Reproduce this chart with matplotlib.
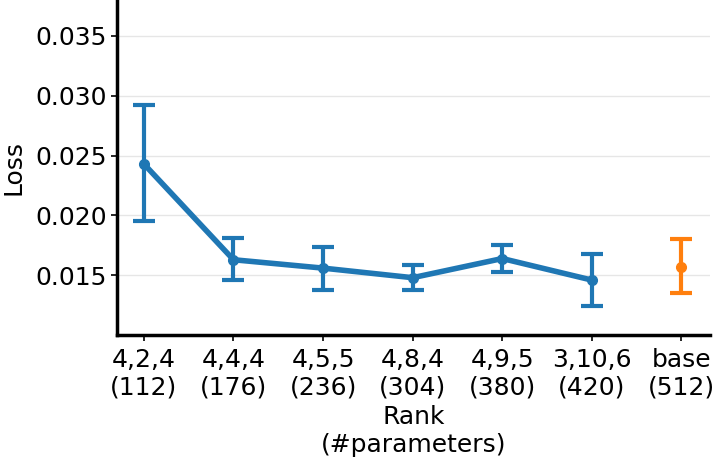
import matplotlib
matplotlib.use("Agg")
import matplotlib.pyplot as plt

# Daten
ranks = ["4,2,4", "4,4,4", "4,5,5", "4,8,4", "4,9,5", "3,10,6", "base"]
params = [112, 176, 236, 304, 380, 420, 512]
loss = [0.0243, 0.0163, 0.0156, 0.0148, 0.0164, 0.0146, 0.0157]
loss_hi = [0.0292, 0.0181, 0.0174, 0.0159, 0.0175, 0.0168, 0.0180]
loss_lo = [0.0195, 0.0146, 0.0138, 0.0138, 0.0153, 0.0124, 0.0135]

x = list(range(len(ranks)))
err_lo = [m - l for m, l in zip(loss, loss_lo)]
err_hi = [h - m for m, h in zip(loss, loss_hi)]

fig = plt.figure(figsize=(7.18, 4.61), dpi=100)
ax = fig.add_axes([0.163, 0.273, 0.826, 0.727])

# Rang-Varianten
ax.errorbar(x[:-1], loss[:-1], yerr=[err_lo[:-1], err_hi[:-1]],
            color="#1f77b4", linewidth=4, marker="o", markersize=7,
            elinewidth=3, capsize=8, capthick=3)
# Basismodell
ax.errorbar(x[-1:], loss[-1:], yerr=[err_lo[-1:], err_hi[-1:]],
            color="#ff7f0e", linewidth=4, marker="o", markersize=7,
            elinewidth=3, capsize=8, capthick=3)

ax.set_xticks(x)
ax.set_xticklabels([f"{r}\n({p})" for r, p in zip(ranks, params)], fontsize=18)
ax.set_yticks([0.015, 0.020, 0.025, 0.030, 0.035])
ax.set_yticklabels(["0.015", "0.020", "0.025", "0.030", "0.035"], fontsize=18)
ax.set_xlim(-0.3, 6.32)
ax.set_ylim(0.010, 0.038)
ax.set_xlabel("Rank\n(#parameters)", fontsize=18, labelpad=4)
ax.set_ylabel("Loss", fontsize=18, labelpad=7)

ax.grid(axis="y", color="#e6e6e6", linewidth=1)
ax.set_axisbelow(True)
for s in ["top", "right"]:
    ax.spines[s].set_visible(False)
for s in ["left", "bottom"]:
    ax.spines[s].set_linewidth(2.5)
    ax.spines[s].set_color("black")
ax.tick_params(width=1.2, length=4)
ax.tick_params(axis="x", pad=5)

plt.savefig("out.png", dpi=100)
